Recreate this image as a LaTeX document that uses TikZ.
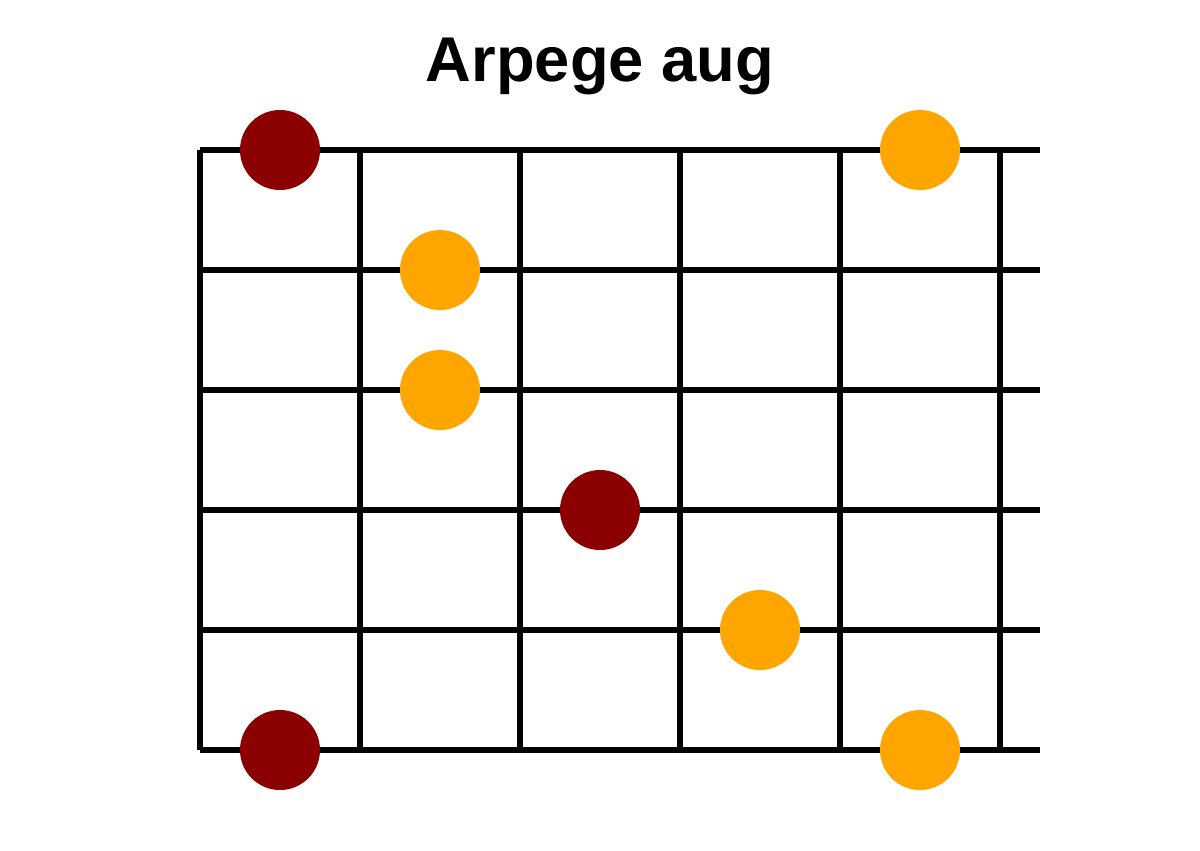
\documentclass[tikz,border=0pt]{standalone}
\usepackage{fontspec}
\setmainfont{Liberation Sans}
\usepackage{tikz}
\usetikzlibrary{positioning}
\definecolor{rootred}{HTML}{8B0000}
\definecolor{noteorange}{HTML}{FFA500}
\tikzset{%
	fret/.style  = {line width=3.6pt, black},
	root/.style  = {circle, fill=rootred, minimum size=2cm, inner sep=0pt},
	note/.style  = {circle, fill=noteorange, minimum size=2cm, inner sep=0pt},
	title/.style = {font=\fontsize{45}{54}\selectfont\bfseries, anchor=base},
}
\begin{document}
\begin{tikzpicture}[x=0.025cm,y=-0.025cm]
		\useasboundingbox (0,0) rectangle (1200,850);
		\node[title] (titre) at (600,81) {Arpege aug};
		
		% cordes
		\foreach \y in {150,270,...,750}
			\draw[fret] (200,\y) -- (1040,\y);
		% frettes
		\foreach \x in {200,360,...,1000}
			\draw[fret] (\x,150) -- (\x,750);
		
		\node[root] (r1) at (280,150) {};
		\node[note] (n1) at (920,150) {};
		\node[note] (n2) at (440,270) {};
		\node[note] (n3) at (440,390) {};
		\node[root] (r2) at (600,510) {};
		\node[note] (n4) at (760,630) {};
		\node[root] (r3) at (280,750) {};
		\node[note] (n5) at (920,750) {};
		
	\end{tikzpicture}
\end{document}
